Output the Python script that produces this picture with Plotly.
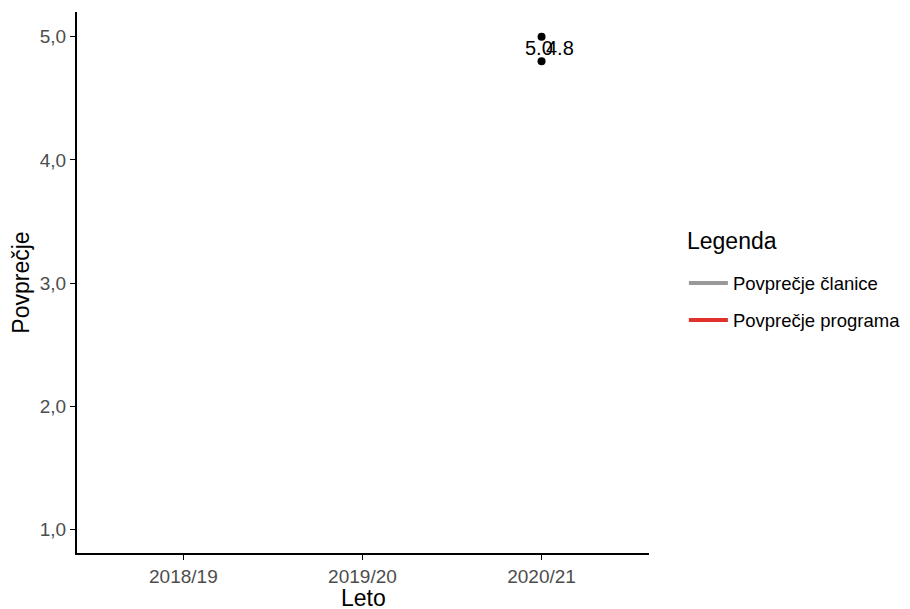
import plotly.graph_objects as go

# data
years = ["2018/19", "2019/20", "2020/21"]
clanica_year = ["2020/21"]
clanica_vals = [5.0]
program_year = ["2020/21"]
program_vals = [4.8]

GREY = "#999999"
RED = "#e0312a"
FONT = "Liberation Sans, Arial, sans-serif"

fig = go.Figure()

# legend lines (single point -> line not visible on plot)
fig.add_trace(go.Scatter(
    x=clanica_year, y=clanica_vals, mode="lines", name="Povprečje članice",
    line=dict(color=GREY, width=4), legendgroup="a",
))
fig.add_trace(go.Scatter(
    x=program_year, y=program_vals, mode="lines", name="Povprečje programa",
    line=dict(color=RED, width=4), legendgroup="b",
))

# points
fig.add_trace(go.Scatter(
    x=clanica_year + program_year, y=clanica_vals + program_vals,
    mode="markers", showlegend=False,
    marker=dict(color="black", size=8),
))

# value labels
for xs, ys, dx, dy in [(clanica_year, clanica_vals, -3, -11), (program_year, program_vals, 18, 13)]:
    for x, y in zip(xs, ys):
        fig.add_annotation(
            x=x, y=y, text=f"{y:.1f}", showarrow=False,
            xshift=dx, yshift=dy,
            font=dict(family=FONT, size=20, color="black"),
        )

# legend title
fig.add_annotation(
    xref="paper", yref="paper", x=1.0626, y=0.577, xanchor="left", yanchor="middle",
    text="Legenda", showarrow=False, font=dict(family=FONT, size=23, color="black"),
)

# x axis title
fig.add_annotation(
    xref="paper", yref="paper", x=0.5, y=-0.083, xanchor="center", yanchor="middle",
    text="Leto", showarrow=False, font=dict(family=FONT, size=23, color="black"),
)

# page body has an 8px margin, so the figure is 8px smaller than the window
fig.update_layout(
    width=902, height=601,
    margin=dict(l=69, r=258, t=4, b=56),
    paper_bgcolor="white", plot_bgcolor="white",
    separators=",.",
    font=dict(family=FONT),
    xaxis=dict(
        type="category", categoryorder="array", categoryarray=years,
        range=[-0.594, 2.6], automargin=False,
        tickvals=years,
        showline=True, linecolor="black", linewidth=2,
        ticks="outside", ticklen=5, tickcolor="black", tickwidth=1,
        tickfont=dict(size=19, color="#4d4d4d"),
        showgrid=False, zeroline=False,
    ),
    yaxis=dict(
        range=[0.81, 5.2], automargin=False,
        tickvals=[1, 2, 3, 4, 5], tickformat=".1f",
        showline=True, linecolor="black", linewidth=2,
        ticks="outside", ticklen=5, tickcolor="black", tickwidth=1,
        tickfont=dict(size=19, color="#4d4d4d"),
        showgrid=False, zeroline=False,
        title=dict(text="Povprečje", font=dict(size=23, color="black"), standoff=6),
    ),
    legend=dict(
        x=1.061, xanchor="left", y=0.464, yanchor="middle",
        font=dict(size=18.5, color="black"),
        tracegroupgap=10, itemwidth=39,
    ),
)

fig.write_html("out.html")
